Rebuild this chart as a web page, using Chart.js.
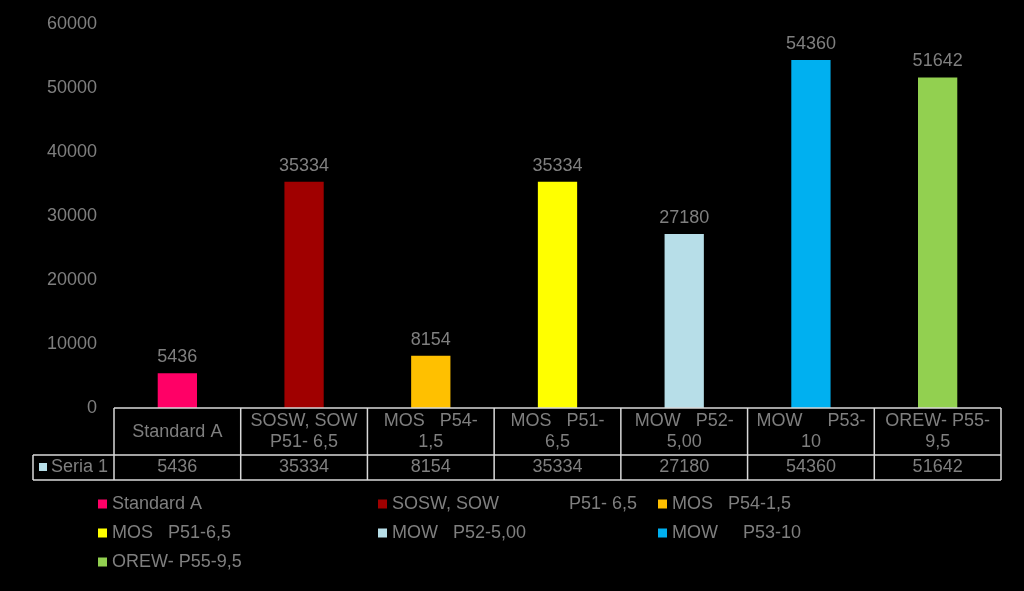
<!DOCTYPE html>
<html>
<head>
<meta charset="utf-8">
<script src="https://cdn.jsdelivr.net/npm/chart.js@4/dist/chart.umd.min.js"></script>
<style>
  html, body { margin: 0; padding: 0; background: #000; }
  #wrap { width: 1024px; height: 591px; position: relative; }
</style>
</head>
<body>
<div id="wrap"><canvas id="c" width="1024" height="591"></canvas></div>
<script>
// ---- data ----
const categories = ["Standard A", "SOSW, SOW              P51- 6,5", "MOS   P54-1,5", "MOS   P51-6,5", "MOW   P52-5,00", "MOW     P53-10", "OREW- P55-9,5"];
const tableLabels = [["Standard A"], ["SOSW, SOW", "P51- 6,5"], ["MOS   P54-", "1,5"], ["MOS   P51-", "6,5"], ["MOW   P52-", "5,00"], ["MOW     P53-", "10"], ["OREW- P55-", "9,5"]];
const seriesName = "Seria 1";
const values = [5436, 35334, 8154, 35334, 27180, 54360, 51642];
const barColors = ["#FF0066", "#A00000", "#FFC000", "#FFFF00", "#B7DEE8", "#00B0F0", "#92D050"];
const yTicks = [0, 10000, 20000, 30000, 40000, 50000, 60000];

const TEXT = "#7f7f7f";
const FONT = "18px 'Liberation Sans', Arial, sans-serif";
const BORDER = "#d9d9d9";

const valueLabels = {
  id: 'valueLabels',
  afterDatasetsDraw(chart) {
    const ctx = chart.ctx;
    const meta = chart.getDatasetMeta(0);
    ctx.save();
    ctx.font = FONT;
    ctx.fillStyle = TEXT;
    ctx.textAlign = 'center';
    ctx.textBaseline = 'alphabetic';
    meta.data.forEach((bar, i) => {
      ctx.fillText(String(values[i]), bar.x, bar.y - 11);
    });
    ctx.restore();
  }
};

const dataTable = {
  id: 'dataTable',
  afterDraw(chart) {
    const ctx = chart.ctx;
    const x = chart.scales.x;
    const ca = chart.chartArea;
    const n = categories.length;
    const colW = (ca.right - ca.left) / n;
    const top = ca.bottom;
    const mid = top + 47;
    const bot = mid + 25;
    const labelLeft = 33;
    ctx.save();
    ctx.strokeStyle = BORDER;
    ctx.lineWidth = 1.5;
    ctx.beginPath();
    ctx.moveTo(ca.left, top); ctx.lineTo(ca.right, top);
    ctx.moveTo(labelLeft, mid); ctx.lineTo(ca.right, mid);
    ctx.moveTo(labelLeft, bot); ctx.lineTo(ca.right, bot);
    ctx.moveTo(labelLeft, mid); ctx.lineTo(labelLeft, bot);
    for (let i = 0; i <= n; i++) {
      const xx = ca.left + i * colW;
      ctx.moveTo(xx, top); ctx.lineTo(xx, bot);
    }
    ctx.stroke();
    ctx.font = FONT;
    ctx.fillStyle = TEXT;
    ctx.textAlign = 'center';
    ctx.textBaseline = 'middle';
    for (let i = 0; i < n; i++) {
      const cx = x.getPixelForValue(i);
      const lines = tableLabels[i];
      if (lines.length === 1) {
        ctx.fillText(lines[0], cx, top + 24);
      } else {
        ctx.fillText(lines[0], cx, top + 13.5);
        ctx.fillText(lines[1], cx, top + 34);
      }
      ctx.fillText(String(values[i]), cx, mid + 12.5);
    }
    ctx.fillStyle = "#B7DEE8";
    ctx.fillRect(39, mid + 8, 8, 8);
    ctx.fillStyle = TEXT;
    ctx.textAlign = 'left';
    ctx.fillText(seriesName, 51, mid + 12.5);

    // legend
    const colsX = [98, 378, 658];
    const rowsY = [504, 533, 562];
    categories.forEach((name, i) => {
      const cxp = colsX[i % 3];
      const cyp = rowsY[Math.floor(i / 3)];
      ctx.fillStyle = barColors[i];
      ctx.fillRect(cxp, cyp - 4.5, 9, 9);
      ctx.fillStyle = TEXT;
      ctx.textAlign = 'left';
      ctx.fillText(name, cxp + 14, cyp);
    });
    ctx.restore();
  }
};

const bgPlugin = {
  id: 'bg',
  beforeDraw(chart) {
    const ctx = chart.ctx;
    ctx.save();
    ctx.fillStyle = '#000';
    ctx.fillRect(0, 0, chart.width, chart.height);
    ctx.restore();
  }
};

new Chart(document.getElementById('c'), {
  type: 'bar',
  data: {
    labels: categories,
    datasets: [{
      label: seriesName,
      data: values,
      backgroundColor: barColors,
      borderWidth: 0,
      barPercentage: 0.31,
      categoryPercentage: 1.0
    }]
  },
  options: {
    responsive: false,
    animation: false,
    devicePixelRatio: 1,
    layout: { padding: { left: 0, right: 23, top: 24, bottom: 183 } },
    plugins: { legend: { display: false }, tooltip: { enabled: false } },
    scales: {
      x: { display: false },
      y: {
        min: 0, max: 60000,
        afterBuildTicks(axis) { axis.ticks = yTicks.map(v => ({ value: v })); },
        afterFit(axis) { axis.width = 114; axis.paddingTop = 0; axis.paddingBottom = 0; },
        grid: { display: false, drawTicks: false },
        border: { display: false },
        ticks: {
          color: TEXT,
          font: { family: "'Liberation Sans', Arial, sans-serif", size: 18 },
          padding: 17,
          callback: (v) => String(v)
        }
      }
    }
  },
  plugins: [bgPlugin, valueLabels, dataTable]
});
</script>
</body>
</html>
